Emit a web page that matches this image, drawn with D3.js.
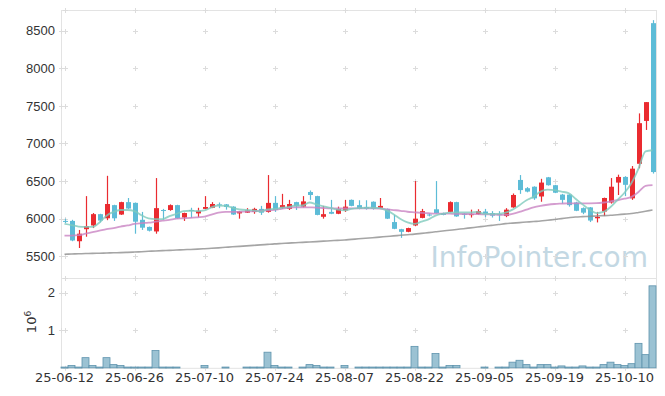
<!DOCTYPE html>
<html>
<head>
<meta charset="utf-8">
<script src="https://cdn.jsdelivr.net/npm/d3@7"></script>
<style>
  body { margin: 0; background: #fff; }
  svg { display: block; }
</style>
</head>
<body>
<div class="chart"></div>
<script>
// trading days (yy-mm-dd)
var dates = ["25-06-12","25-06-13","25-06-16","25-06-17","25-06-18","25-06-19","25-06-20","25-06-23","25-06-24","25-06-25",
  "25-06-26","25-06-27","25-06-30","25-07-01","25-07-02","25-07-03","25-07-04","25-07-07","25-07-08","25-07-09",
  "25-07-10","25-07-11","25-07-14","25-07-15","25-07-16","25-07-17","25-07-18","25-07-21","25-07-22","25-07-23",
  "25-07-24","25-07-25","25-07-28","25-07-29","25-07-30","25-07-31","25-08-01","25-08-04","25-08-05","25-08-06",
  "25-08-07","25-08-08","25-08-11","25-08-12","25-08-13","25-08-14","25-08-18","25-08-19","25-08-20","25-08-21",
  "25-08-22","25-08-25","25-08-26","25-08-27","25-08-28","25-08-29","25-09-01","25-09-02","25-09-03","25-09-04",
  "25-09-05","25-09-08","25-09-09","25-09-10","25-09-11","25-09-12","25-09-15","25-09-16","25-09-17","25-09-18",
  "25-09-19","25-09-22","25-09-23","25-09-24","25-09-25","25-09-26","25-09-29","25-09-30","25-10-01","25-10-02",
  "25-10-10","25-10-13","25-10-14","25-10-15","25-10-16"];

var opens = [5970,5970,5700,5860,5910,6060,6005,6180,6055,6220, 6210,5985,5890,5830,6115,6115,6180,6015,6115,6070,
  6130,6145,6190,6190,6160,6070,6080,6090,6130,6090, 6210,6145,6130,6220,6160,6355,6300,6025,6090,6065,
  6110,6250,6180,6155,6225,6145,6130,5955,5860,5825, 5910,6010,6055,6125,6075,6090,6220,6065,6055,6060,
  6095,6075,6060,6035,6150,6515,6405,6425,6295,6550, 6445,6320,6320,6215,6140,6150,6005,6095,6215,6480,
  6555,6270,6730,7300,8600];
var highs = [6000,5985,5850,6300,6075,6065,6570,6185,6225,6275, 6215,6090,5895,6540,6130,6190,6185,6080,6145,6145,
  6300,6220,6215,6195,6165,6100,6140,6145,6170,6580, 6300,6330,6250,6225,6300,6375,6305,6170,6250,6160,
  6250,6255,6245,6245,6230,6275,6135,6050,5865,5880, 6500,6130,6070,6500,6080,6230,6225,6075,6120,6125,
  6130,6100,6100,6140,6335,6580,6420,6430,6530,6555, 6450,6330,6325,6225,6150,6155,6090,6280,6540,6585,
  6565,6700,7400,7550,8640];
var lows = [5940,5700,5610,5760,5875,5950,5980,5970,6050,6130, 5800,5850,5830,5800,5985,6105,6000,5970,6010,6020,
  6125,6140,6140,6120,6050,6000,6075,6065,6050,6080, 6090,6130,6115,6115,6150,6250,6045,6000,6060,6060,
  6090,6165,6125,6120,6120,6140,5995,5860,5745,5820, 5900,6005,6030,6070,6045,6085,6025,6000,6015,6055,
  6020,6015,5970,6020,6145,6330,6350,6250,6225,6440, 6340,6200,6160,6100,6060,5955,5950,6035,6200,6315,
  6300,6250,6670,7180,6600];
var closes = [5960,5710,5800,5900,6060,5975,6195,6005,6220,6135, 5960,5880,5840,6140,6105,6180,6005,6075,6110,6105,
  6155,6195,6180,6155,6055,6095,6110,6130,6080,6210, 6115,6180,6195,6165,6230,6315,6050,6060,6065,6130,
  6160,6170,6130,6130,6130,6170,6000,5865,5825,5875, 6000,6100,6050,6075,6050,6220,6030,6055,6060,6100,
  6065,6040,6050,6120,6315,6380,6360,6270,6480,6445, 6345,6250,6180,6105,6080,5975,6025,6275,6425,6555,
  6450,6665,7270,7550,6620];
var volumes = [20000,60000,20000,270000,60000,20000,270000,85000,60000,20000, 20000,20000,20000,460000,20000,20000,20000,0,0,0,
  60000,0,0,20000,0,0,20000,20000,20000,415000, 60000,20000,20000,0,20000,85000,60000,20000,20000,0,
  60000,0,20000,20000,20000,20000,20000,20000,20000,20000, 570000,20000,20000,380000,20000,60000,60000,0,0,0,
  20000,0,20000,20000,150000,200000,85000,20000,85000,85000, 20000,50000,20000,20000,50000,20000,20000,85000,150000,85000,
  60000,110000,650000,350000,2180000];

// moving averages
var ma5 = [5930,5915,5895,5890,5890,5950,6040,6090,6115,6115, 6100,6045,6005,5995,5995,6035,6065,6100,6105,6100,
  6110,6150,6175,6170,6145,6125,6115,6110,6095,6125, 6130,6145,6155,6175,6175,6215,6190,6165,6145,6120,
  6110,6130,6140,6145,6145,6140,6110,6060,5995,5950, 5930,5960,5990,6040,6065,6080,6085,6085,6085,6090,
  6065,6065,6065,6080,6120,6180,6245,6290,6360,6385, 6380,6360,6340,6265,6190,6120,6075,6090,6155,6250,
  6345,6475,6665,6895,6910];
var ma20 = [5775,5775,5780,5800,5820,5840,5860,5875,5895,5910, 5930,5940,5947,5960,5973,5985,6000,6005,6010,6018,
  6027,6055,6080,6090,6090,6092,6095,6098,6105,6110, 6116,6130,6145,6150,6152,6150,6148,6142,6138,6138,
  6138,6138,6138,6138,6138,6135,6125,6115,6105,6092, 6085,6078,6072,6068,6068,6066,6064,6062,6062,6060,
  6058,6055,6052,6050,6065,6090,6120,6150,6170,6185, 6195,6200,6204,6204,6204,6204,6206,6215,6230,6245,
  6265,6290,6355,6435,6445];
var ma60 = [5527,5530,5533,5536,5538,5540,5543,5546,5549,5552, 5556,5561,5566,5571,5575,5579,5583,5587,5591,5595,
  5600,5606,5612,5619,5626,5632,5638,5645,5651,5658, 5665,5670,5675,5680,5685,5690,5695,5701,5706,5712,
  5717,5725,5732,5740,5747,5755,5763,5771,5779,5787, 5795,5805,5815,5825,5835,5846,5857,5867,5878,5889,
  5900,5911,5922,5934,5941,5948,5955,5962,5968,5979, 5990,6001,6012,6022,6027,6031,6036,6040,6045,6053,
  6060,6068,6083,6099,6115];

var priceTicks = [5500,6000,6500,7000,7500,8000,8500];
var volTicks = [1,2];
var labelEvery = 10;

function drawChart() {

var W = 665, H = 396;
var left = 61, right = 656;
var plotTop = 10, plotMid = 278, plotBottom = 367.8;

var svg = d3.select("div.chart").append("svg")
  .attr("width", W).attr("height", H)
  .style("font-family", "'DejaVu Sans', sans-serif");

var x = d3.scaleLinear().domain([-0.5, dates.length - 0.5]).range([left, right]);
var y = d3.scaleLinear().domain([5211, 8775]).range([plotMid, plotTop]);
var yv = d3.scaleLinear().domain([0, 2388000]).range([plotBottom, plotMid]);
var step = x(1) - x(0);
var idx = d3.range(dates.length);
var tickIdx = idx.filter(function(i){ return i % labelEvery === 0; });

//watermark
svg.append("text")
  .attr("x", 648).attr("y", 267)
  .attr("text-anchor", "end")
  .attr("font-size", 28)
  .attr("fill", "#c3d8e3")
  .text("InfoPointer.com");

//frame
var frame = svg.append("g").attr("stroke", "#e3e3e3").attr("fill", "none");
frame.append("rect").attr("x", left + 0.5).attr("y", plotTop + 0.5).attr("width", right - left).attr("height", plotBottom - plotTop);
frame.append("line").attr("x1", left).attr("x2", right).attr("y1", plotMid + 0.5).attr("y2", plotMid + 0.5);

//little "+" markers where grid lines would cross
function plus(g, cx, cy) {
  g.append("path").attr("d", "M" + (cx - 2.5) + "," + cy + "H" + (cx + 2.5) + "M" + cx + "," + (cy - 2.5) + "V" + (cy + 2.5));
}
var marks = svg.append("g").attr("stroke", "#dcdcdc").attr("stroke-width", 1);
tickIdx.forEach(function(i){
  var cx = Math.round(x(i)) + 0.5;
  priceTicks.forEach(function(p){ plus(marks, cx, Math.round(y(p)) + 0.5); });
  volTicks.forEach(function(v){ plus(marks, cx, Math.round(yv(v * 1e6)) + 0.5); });
  plus(marks, cx, plotMid + 0.5);
  plus(marks, cx, plotBottom + 0.5);
  plus(marks, cx, plotTop + 0.5);
});
priceTicks.forEach(function(p){ plus(marks, left + 0.5, Math.round(y(p)) + 0.5); });
volTicks.forEach(function(v){ plus(marks, left + 0.5, Math.round(yv(v * 1e6)) + 0.5); });

//volume bars
svg.append("g").selectAll("rect")
  .data(idx.filter(function(i){ return volumes[i] > 0; }))
  .enter().append("rect")
  .attr("x", function(i){ return x(i) - step / 2; })
  .attr("width", step)
  .attr("y", function(i){ return yv(volumes[i]); })
  .attr("height", function(i){ return Math.max(1, plotBottom - yv(volumes[i])); })
  .attr("fill", "#9bc2d3")
  .attr("stroke", "#5e93ad")
  .attr("stroke-width", 0.8);

//candles
var up = "#ea2b30", down = "#5dbcd7";
var candles = svg.append("g").selectAll("g")
  .data(idx).enter().append("g")
  .attr("fill", function(i){ return closes[i] > opens[i] ? up : down; })
  .attr("stroke", function(i){ return closes[i] > opens[i] ? up : down; });

candles.append("line")
  .attr("x1", function(i){ return Math.round(x(i)) + 0.5; })
  .attr("x2", function(i){ return Math.round(x(i)) + 0.5; })
  .attr("y1", function(i){ return y(highs[i]); })
  .attr("y2", function(i){ return y(lows[i]); })
  .attr("stroke-width", 1.2);

candles.append("rect")
  .attr("x", function(i){ return Math.round(x(i)) + 0.5 - 2.5; })
  .attr("width", 5)
  .attr("y", function(i){ return y(Math.max(opens[i], closes[i])); })
  .attr("height", function(i){ return Math.max(1, Math.abs(y(opens[i]) - y(closes[i]))); })
  .attr("stroke", "none");

//moving average lines
function maLine(vals, color, w) {
  svg.append("path")
    .datum(idx)
    .attr("fill", "none")
    .attr("stroke", color)
    .attr("stroke-width", w)
    .attr("stroke-opacity", 0.8)
    .attr("d", d3.line()
      .x(function(i){ return x(i); })
      .y(function(i){ return y(vals[i]); })
      .curve(d3.curveMonotoneX));
}
maLine(ma60, "#8e8e8e", 1.6);
maLine(ma20, "#c985c3", 1.8);
maLine(ma5, "#80cbbd", 1.8);

//axes text
var ax = svg.append("g").attr("fill", "#333");
ax.selectAll(".py").data(priceTicks).enter().append("text")
  .attr("x", 55).attr("y", function(p){ return y(p); })
  .attr("dy", "0.36em").attr("text-anchor", "end")
  .attr("font-family", "'Liberation Sans', Arial, sans-serif")
  .attr("font-size", 13)
  .text(function(p){ return p; });

ax.selectAll(".vy").data(volTicks).enter().append("text")
  .attr("x", 55).attr("y", function(v){ return yv(v * 1e6); })
  .attr("dy", "0.36em").attr("text-anchor", "end")
  .attr("font-family", "'Liberation Sans', Arial, sans-serif")
  .attr("font-size", 13)
  .text(function(v){ return v; });

var exp = ax.append("text")
  .attr("transform", "translate(36,322) rotate(-90)")
  .attr("text-anchor", "middle")
  .attr("font-size", 13);
exp.append("tspan").text("10");
exp.append("tspan").attr("font-size", 9).attr("dy", -5).text("6");

ax.selectAll(".xl").data(tickIdx).enter().append("text")
  .attr("x", function(i){ return x(i); })
  .attr("y", 382)
  .attr("text-anchor", "middle")
  .attr("font-size", 13)
  .text(function(i){ return dates[i]; });
}

drawChart();
</script>
</body>
</html>
